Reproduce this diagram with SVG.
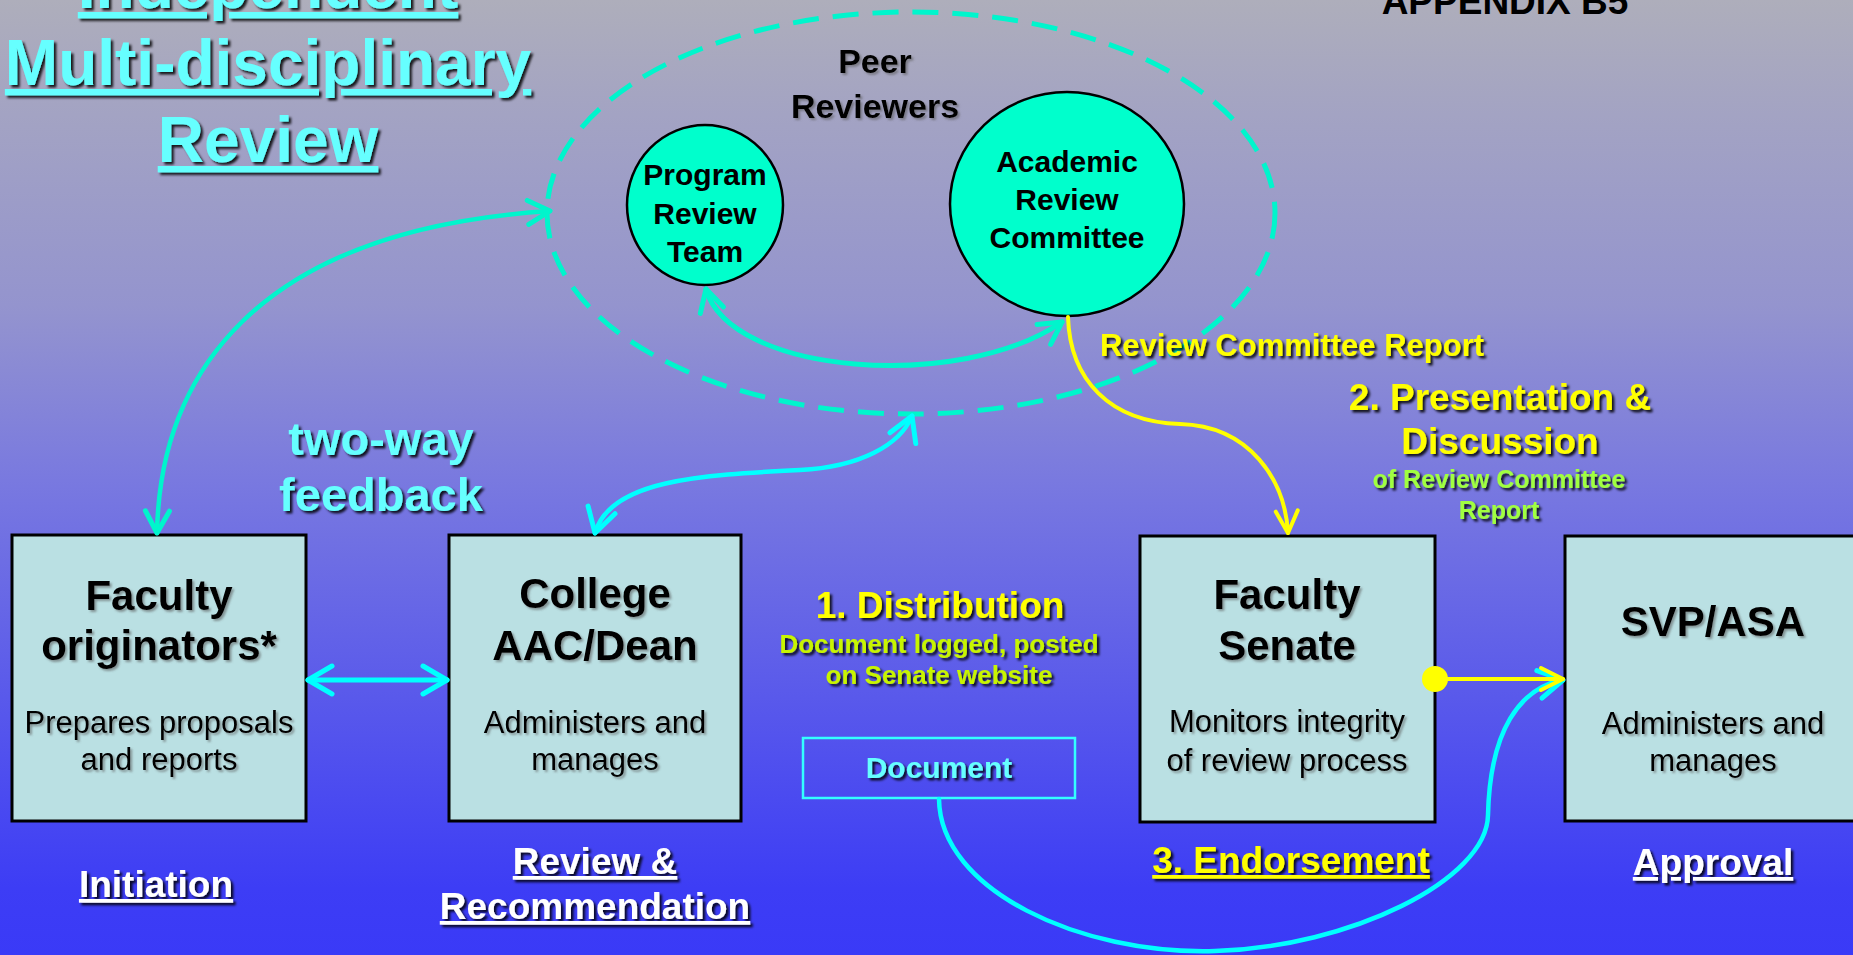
<svg xmlns="http://www.w3.org/2000/svg" width="1853" height="955" viewBox="0 0 1853 955">
<defs>
<linearGradient id="bg" x1="0" y1="0" x2="0" y2="1">
<stop offset="0" stop-color="#AEAEBB"/>
<stop offset="0.12" stop-color="#A3A3C3"/>
<stop offset="0.32" stop-color="#9494CE"/>
<stop offset="0.51" stop-color="#7878E0"/>
<stop offset="0.93" stop-color="#3D3DF5"/>
<stop offset="1" stop-color="#3A3AF7"/>
</linearGradient>
<filter id="sh" x="-10%" y="-30%" width="120%" height="160%">
<feDropShadow dx="2.5" dy="2.5" stdDeviation="0.8" flood-color="#000" flood-opacity="0.85"/>
</filter>
<filter id="shs" x="-10%" y="-30%" width="120%" height="160%">
<feDropShadow dx="2" dy="2" stdDeviation="1" flood-color="#555" flood-opacity="0.55"/>
</filter>
<marker id="ag" viewBox="-30 -18 34 36" refX="0" refY="0" markerWidth="34" markerHeight="36" markerUnits="userSpaceOnUse" orient="auto-start-reverse" style="overflow:visible">
<path d="M-22,-12 L0,0 L-22,12" fill="none" stroke="#00F5CC" stroke-width="5" stroke-linecap="round" stroke-linejoin="round"/>
</marker>
<marker id="ac" viewBox="-30 -18 34 36" refX="0" refY="0" markerWidth="34" markerHeight="36" markerUnits="userSpaceOnUse" orient="auto-start-reverse" style="overflow:visible">
<path d="M-24,-14 L0,0 L-24,14" fill="none" stroke="#00FFFF" stroke-width="5" stroke-linecap="round" stroke-linejoin="round"/>
</marker>
<marker id="ay" viewBox="-30 -18 34 36" refX="0" refY="0" markerWidth="34" markerHeight="36" markerUnits="userSpaceOnUse" orient="auto" style="overflow:visible">
<path d="M-22,-11 L0,0 L-22,11" fill="none" stroke="#FFFF00" stroke-width="4" stroke-linecap="round" stroke-linejoin="round"/>
</marker>
</defs>
<style>
text{font-family:"Liberation Sans",Arial,sans-serif;text-anchor:middle}
.b{font-weight:bold}
.title{font-size:64px;font-weight:bold;fill:#66FFFF;text-decoration:underline;filter:url(#sh)}
.box{fill:#BAE0E3;stroke:#000;stroke-width:3}
.bt{font-size:42px;font-weight:bold;fill:#000;filter:url(#shs)}
.bd{font-size:31px;fill:#000;filter:url(#shs)}
.circ{fill:#00FFCC;stroke:#000;stroke-width:2.5}
.ct{font-weight:bold;fill:#000}
.lab{font-size:37px;font-weight:bold;fill:#FFFFFF;text-decoration:underline;filter:url(#sh)}
.yl{fill:#FFFF00;font-weight:bold;filter:url(#sh)}
.gr{fill:#A0FF40;font-weight:bold;filter:url(#sh)}
.yg{fill:#C8F500;font-weight:bold;filter:url(#sh)}
.cy{fill:#66FFFF;font-weight:bold;filter:url(#sh)}
.conn{fill:none;stroke-linecap:round}
</style>
<rect x="0" y="0" width="1853" height="955" fill="url(#bg)"/>

<g id="title">
<text class="title" x="268" y="8">Independent</text>
<text class="title" x="268" y="85">Multi-disciplinary</text>
<text class="title" x="268" y="162">Review</text>
</g>
<g id="appendix">
<text class="b" x="1505" y="14" font-size="37" fill="#000">APPENDIX B5</text>
</g>

<g id="peer-reviewers">
<ellipse cx="911" cy="213" rx="364" ry="201" fill="none" stroke="#00F5CC" stroke-width="5" stroke-dasharray="26 14"/>
<text class="ct" x="875" y="73" font-size="34" filter="url(#shs)">Peer</text>
<text class="ct" x="875" y="118" font-size="34" filter="url(#shs)">Reviewers</text>
</g>

<g id="program-review-team">
<ellipse class="circ" cx="705" cy="205" rx="78" ry="80"/>
<text class="ct" x="705" y="185" font-size="30">Program</text>
<text class="ct" x="705" y="224" font-size="30">Review</text>
<text class="ct" x="705" y="262" font-size="30">Team</text>
</g>

<g id="academic-review-committee">
<ellipse class="circ" cx="1067" cy="204" rx="117" ry="112"/>
<text class="ct" x="1067" y="172" font-size="30">Academic</text>
<text class="ct" x="1067" y="210" font-size="30">Review</text>
<text class="ct" x="1067" y="248" font-size="30">Committee</text>
</g>

<g id="faculty-originators">
<rect class="box" x="12" y="535" width="294" height="286"/>
<text class="bt" x="159" y="610">Faculty</text>
<text class="bt" x="159" y="660">originators*</text>
<text class="bd" x="159" y="733">Prepares proposals</text>
<text class="bd" x="159" y="770">and reports</text>
</g>

<g id="college-aac-dean">
<rect class="box" x="449" y="535" width="292" height="286"/>
<text class="bt" x="595" y="608">College</text>
<text class="bt" x="595" y="660">AAC/Dean</text>
<text class="bd" x="595" y="733">Administers and</text>
<text class="bd" x="595" y="770">manages</text>
</g>

<g id="faculty-senate">
<rect class="box" x="1140" y="536" width="295" height="286"/>
<text class="bt" x="1287" y="609">Faculty</text>
<text class="bt" x="1287" y="660">Senate</text>
<text class="bd" x="1287" y="732">Monitors integrity</text>
<text class="bd" x="1287" y="771">of review process</text>
</g>

<g id="svp-asa">
<rect class="box" x="1565" y="536" width="296" height="285"/>
<text class="bt" x="1713" y="636">SVP/ASA</text>
<text class="bd" x="1713" y="734">Administers and</text>
<text class="bd" x="1713" y="771">manages</text>
</g>

<g id="document">
<rect x="803" y="738" width="272" height="60" fill="none" stroke="#33FFFF" stroke-width="2.5"/>
<text class="cy" x="939" y="778" font-size="30">Document</text>
</g>

<g id="connectors">
<path class="conn" d="M706 289 C730 375, 960 392, 1062 322" stroke="#00F5CC" stroke-width="5" marker-start="url(#ag)" marker-end="url(#ag)"/>
<path class="conn" d="M157 533 C160 380, 250 230, 550 211" stroke="#00F5CC" stroke-width="4.5" marker-start="url(#ag)" marker-end="url(#ag)"/>
<path class="conn" d="M595 533 C610 480, 700 475, 800 470 C860 467, 900 445, 912 416" stroke="#00FFFF" stroke-width="4.5" marker-start="url(#ac)" marker-end="url(#ac)"/>
<path class="conn" d="M308 680 L447 680" stroke="#00FFFF" stroke-width="5" marker-start="url(#ac)" marker-end="url(#ac)"/>
<path class="conn" d="M1068 317 C1070 380, 1110 422, 1180 424 C1250 426, 1285 480, 1288 533" stroke="#FFFF00" stroke-width="4" marker-end="url(#ay)"/>
<path class="conn" d="M939 799 C940 890, 1080 955, 1215 951 C1350 947, 1487 880, 1488 815 C1490 730, 1520 688, 1563 680" stroke="#00FFFF" stroke-width="4.5" marker-end="url(#ac)"/>
<path class="conn" d="M1435 679 L1563 679" stroke="#FFFF00" stroke-width="4" marker-end="url(#ay)"/>
<circle cx="1435" cy="679" r="13" fill="#FFFF00"/>
</g>

<g id="labels">
<text class="cy" x="381" y="455" font-size="47">two-way</text>
<text class="cy" x="381" y="511" font-size="47">feedback</text>
<text class="yl" x="1292" y="356" font-size="31">Review Committee Report</text>
<text class="yl" x="1500" y="410" font-size="37">2. Presentation &amp;</text>
<text class="yl" x="1500" y="454" font-size="37">Discussion</text>
<text class="gr" x="1499" y="488" font-size="25">of Review Committee</text>
<text class="gr" x="1499" y="519" font-size="25">Report</text>
<text class="yl" x="940" y="618" font-size="37">1. Distribution</text>
<text class="yg" x="939" y="653" font-size="26">Document logged, posted</text>
<text class="yg" x="939" y="684" font-size="26">on Senate website</text>
<text class="lab" x="156" y="897">Initiation</text>
<text class="lab" x="595" y="874">Review &amp;</text>
<text class="lab" x="595" y="919">Recommendation</text>
<text class="lab" x="1291" y="873" style="fill:#FFFF00">3. Endorsement</text>
<text class="lab" x="1713" y="875">Approval</text>
</g>
</svg>
